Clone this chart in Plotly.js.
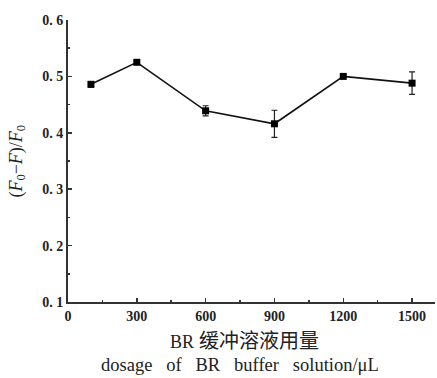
<!DOCTYPE html>
<html><head><meta charset="utf-8">
<script src="https://cdn.plot.ly/plotly-3.0.1.min.js"></script>
<style>html,body{margin:0;padding:0;background:#fff}#c{width:437px;height:378px}</style>
</head><body><div id="c"></div>
<script>
var dosage = [100, 300, 600, 900, 1200, 1500];
var ratio = [0.486, 0.525, 0.439, 0.416, 0.500, 0.488];
var errors = [0.005, 0.003, 0.009, 0.024, 0.003, 0.02];
var xTickVals = [0, 300, 600, 900, 1200, 1500];
var yTickVals = [0.1, 0.2, 0.3, 0.4, 0.5, 0.6];
var yTickText = ['0. 1', '0. 2', '0. 3', '0. 4', '0. 5', '0. 6'];

var tickFont = {family: '"Liberation Serif", "DejaVu Serif", serif', size: 14, color: '#222', weight: 'bold'};
var trace = {
  x: dosage, y: ratio, type: 'scatter', mode: 'lines+markers',
  line: {color: '#111', width: 1.6},
  marker: {symbol: 'square', size: 7, color: '#000'},
  error_y: {type: 'data', array: errors, visible: true, color: '#222', thickness: 1.2, width: 3}
};
var layout = {
  width: 437, height: 378,
  margin: {l: 68, r: 2, t: 20, b: 76},
  paper_bgcolor: '#fff', plot_bgcolor: '#fff',
  showlegend: false,
  xaxis: {
    range: [0, 1600], tickvals: xTickVals, ticks: 'inside', ticklen: 4, tickwidth: 1.5, tickcolor: '#333',
    minor: {dtick: 150, ticks: 'inside', ticklen: 2, tickwidth: 1.5, tickcolor: '#333'},
    showline: true, linecolor: '#333', linewidth: 2, showgrid: false, zeroline: false,
    tickfont: tickFont,
    title: {text: ''}
  },
  yaxis: {
    range: [0.1, 0.6], tickvals: yTickVals, ticktext: yTickText, ticks: 'inside', ticklen: 4, tickwidth: 1.5, tickcolor: '#333',
    minor: {dtick: 0.05, ticks: 'inside', ticklen: 2, tickwidth: 1.5, tickcolor: '#333'},
    showline: true, linecolor: '#333', linewidth: 2, showgrid: false, zeroline: false,
    tickfont: tickFont,
    title: {text: ''}
  },
  annotations: [
    {xref: 'paper', yref: 'paper', x: 0.48, y: -0.138, xanchor: 'center', yanchor: 'middle', showarrow: false,
     text: '<span style="font-size:18px">BR</span> 缓冲溶液用量', font: {family: 'Liberation Serif, Noto Sans CJK SC, serif', size: 20, color: '#222'}},
    {xref: 'paper', yref: 'paper', x: 0.47, y: -0.224, xanchor: 'center', yanchor: 'middle', showarrow: false,
     text: 'dosage\u00a0\u00a0\u00a0of\u00a0\u00a0\u00a0BR\u00a0\u00a0\u00a0buffer\u00a0\u00a0\u00a0solution/μL', font: {family: 'Liberation Serif, serif', size: 18.5, color: '#222'}},
    {xref: 'paper', yref: 'paper', x: -0.14, y: 0.5, xanchor: 'center', yanchor: 'middle', showarrow: false, textangle: -90,
     text: '(<i>F</i><sub>0</sub>−<i>F</i>)/<i>F</i><sub>0</sub>', font: {family: 'Liberation Serif, serif', size: 18, color: '#222'}}
  ]
};
Plotly.newPlot('c', [trace], layout, {displayModeBar: false, staticPlot: true});
</script></body></html>
